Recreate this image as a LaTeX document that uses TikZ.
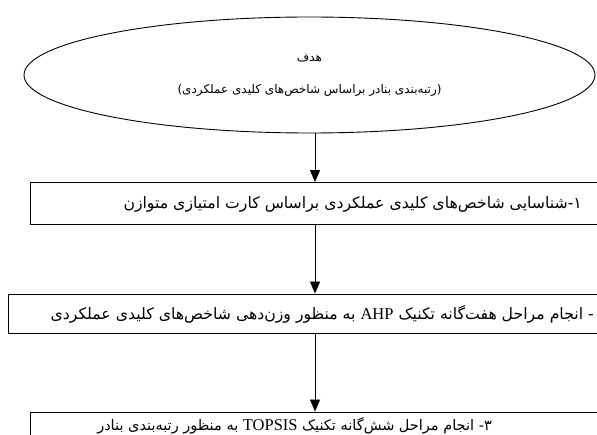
\documentclass[tikz,border=0pt]{standalone}
\usepackage{fontspec}
\setmainfont{Liberation Serif}
\newfontfamily\farsifont[Script=Arabic]{DejaVu Sans}
\TeXXeTstate=1
\usepackage{tikz}
\usetikzlibrary{arrows.meta,shapes.geometric,positioning}

\tikzset{
  goalshape/.style={ellipse,draw,line width=0.9pt,minimum width=571pt,minimum height=116pt,
    inner sep=0pt,align=center,font=\farsifont\fontsize{12}{32}\selectfont},
  stagebox/.style={draw,line width=0.9pt,minimum width=570pt,minimum height=41.5pt,inner sep=0pt},
  stagetext/.style={font=\farsifont\fontsize{15.7}{17}\selectfont,inner sep=0pt,anchor=east},
  flow/.style={line width=0.9pt,-{Triangle[length=12pt,width=10pt]}}
}
\newcommand{\latinword}[1]{{\rmfamily\fontsize{16.5}{17}\selectfont #1}}

\begin{document}
\begin{tikzpicture}[x=1pt,y=-1pt]
  \useasboundingbox (0,0) rectangle (597,435);
  % goal
  \node[goalshape] (goal) at (309.5,75)
    {\beginR هدف\endR\\ \beginR (رتبه^^^^200cبندی بنادر براساس شاخص^^^^200cهای کلیدی عملکردی)\endR};
  % stages
  \node[stagebox] (s1) at (315,203.25) {};
  \node[stagebox,minimum width=614pt,minimum height=39pt] (s2) at (315,313.5) {};
  \node[stagebox] (s3) at (315,432.75) {};
  \node[stagetext] (t1) at (582,204)
    {\beginR ۱-شناسایی شاخص^^^^200cهای کلیدی عملکردی براساس کارت امتیازی متوازن\endR};
  \node[stagetext] (t2) at (594,314)
    {\beginR - انجام مراحل هفت^^^^200cگانه تکنیک \latinword{AHP} به منظور وزن^^^^200cدهی شاخص^^^^200cهای کلیدی عملکردی\endR};
  \node[stagetext,font=\farsifont\fontsize{14.5}{15}\selectfont] (t3) at (492,425.5)
    {\beginR ۳- انجام مراحل شش^^^^200cگانه تکنیک \latinword{TOPSIS} به منظور رتبه^^^^200cبندی بنادر\endR};
  % connectors
  \draw[flow] (s1.north |- goal.south) -- (s1.north);
  \draw[flow] (s1.south) -- (s2.north);
  \draw[flow] (s2.south) -- (s3.north);
\end{tikzpicture}
\end{document}
